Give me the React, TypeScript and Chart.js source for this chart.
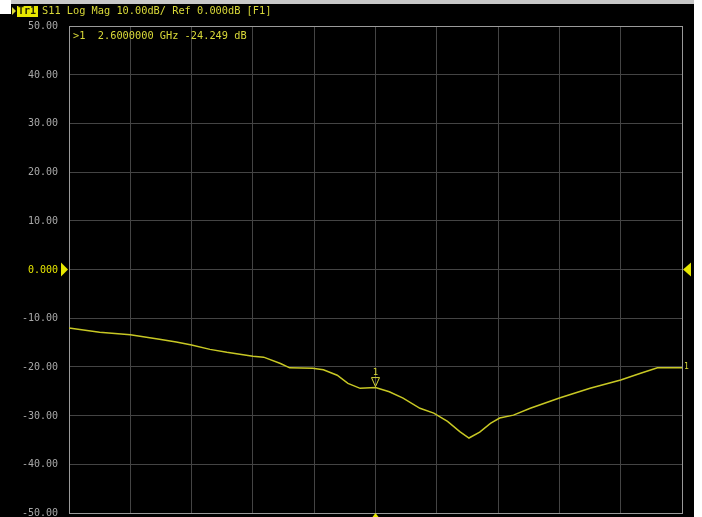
import React, { useEffect, useRef } from "react";
import { Chart, registerables } from "chart.js";

Chart.register(...registerables);

// ---- data ----
const freqGHz = [
  0.6, 0.8, 1.0, 1.19, 1.3, 1.4, 1.52, 1.63, 1.8, 1.87, 1.98, 2.04, 2.19, 2.26,
  2.35, 2.42, 2.5, 2.6, 2.69, 2.78, 2.89, 2.98, 3.07, 3.15, 3.21, 3.28, 3.35,
  3.41, 3.5, 3.61, 3.8, 4.0, 4.2, 4.33, 4.44, 4.6,
];
const s11dB = [
  -12.0, -12.9, -13.4, -14.3, -14.9, -15.5, -16.4, -17.0, -17.8, -18.0, -19.3,
  -20.2, -20.3, -20.6, -21.7, -23.4, -24.4, -24.249, -25.1, -26.4, -28.5, -29.5,
  -31.2, -33.3, -34.6, -33.4, -31.6, -30.5, -29.9, -28.5, -26.4, -24.4, -22.7,
  -21.3, -20.2, -20.2,
];
const yTicks = [50, 40, 30, 20, 10, 0, -10, -20, -30, -40, -50];
const yTickLabels = [
  "50.00", "40.00", "30.00", "20.00", "10.00", "0.000",
  "-10.00", "-20.00", "-30.00", "-40.00", "-50.00",
];
const xGrid = [0.6, 1.0, 1.4, 1.8, 2.2, 2.6, 3.0, 3.4, 3.8, 4.2, 4.6];
const refLevel = 0;
const markerFreq = 2.6;
const markerValue = -24.249;
const traceName = "Tr1";
const headerText = "S11 Log Mag 10.00dB/ Ref 0.000dB [F1]";
const markerReadout = ">1  2.6000000 GHz -24.249 dB";
const markerName = "1";

const YELLOW = "#d8d838";
const TRACE = "#c8c824";
const GRAY_TEXT = "#a8a8a8";
const GRID = "#444444";
const BORDER = "#9a9a9a";
const MONO = "'DejaVu Sans Mono', 'Liberation Mono', monospace";

const overlay = {
  id: "vnaOverlay",
  beforeDatasetsDraw(chart: any) {
    const { ctx, chartArea } = chart;
    ctx.save();
    ctx.strokeStyle = BORDER;
    ctx.lineWidth = 1;
    ctx.strokeRect(
      Math.round(chartArea.left) + 0.5,
      Math.round(chartArea.top) + 0.5,
      Math.round(chartArea.right - chartArea.left),
      Math.round(chartArea.bottom - chartArea.top)
    );
    ctx.restore();
  },
  afterDraw(chart: any) {
    const { ctx, chartArea } = chart;
    const ys = chart.scales.y;
    const xs = chart.scales.x;
    ctx.save();
    // header
    ctx.fillStyle = YELLOW;
    ctx.beginPath();
    ctx.moveTo(12, 7);
    ctx.lineTo(16, 11);
    ctx.lineTo(12, 15);
    ctx.closePath();
    ctx.fill();
    ctx.fillStyle = "#e8e800";
    ctx.fillRect(17, 6, 21, 11);
    ctx.font = `bold 10px ${MONO}`;
    ctx.fillStyle = "#202000";
    ctx.textBaseline = "middle";
    ctx.textAlign = "left";
    ctx.fillText(traceName, 18, 11.5);
    ctx.font = `10.3px ${MONO}`;
    ctx.fillStyle = YELLOW;
    ctx.fillText(headerText, 42, 11.5);
    // marker readout
    ctx.fillText(markerReadout, 73, 36.5);

    // y labels
    ctx.font = `10px ${MONO}`;
    ctx.textAlign = "right";
    yTicks.forEach((v, i) => {
      const y = ys.getPixelForValue(v);
      ctx.fillStyle = v === refLevel ? "#e4e400" : GRAY_TEXT;
      ctx.fillText(yTickLabels[i], 58, y + 0.5);
    });

    // reference triangles
    const yr = ys.getPixelForValue(refLevel);
    ctx.fillStyle = "#e8e800";
    ctx.beginPath();
    ctx.moveTo(61, yr - 7);
    ctx.lineTo(68, yr);
    ctx.lineTo(61, yr + 7);
    ctx.closePath();
    ctx.fill();
    ctx.beginPath();
    ctx.moveTo(691, yr - 7);
    ctx.lineTo(683, yr);
    ctx.lineTo(691, yr + 7);
    ctx.closePath();
    ctx.fill();

    // marker
    const xm = xs.getPixelForValue(markerFreq);
    const ym = ys.getPixelForValue(markerValue);
    ctx.strokeStyle = YELLOW;
    ctx.lineWidth = 1;
    ctx.beginPath();
    ctx.moveTo(xm - 4, ym - 10);
    ctx.lineTo(xm + 4, ym - 10);
    ctx.lineTo(xm, ym - 1);
    ctx.closePath();
    ctx.stroke();
    ctx.font = `9px ${MONO}`;
    ctx.fillStyle = YELLOW;
    ctx.textAlign = "center";
    ctx.fillText(markerName, xm, ym - 15);

    // bottom marker position indicator
    ctx.fillStyle = "#e8e800";
    ctx.beginPath();
    ctx.moveTo(xm - 3, chartArea.bottom + 4);
    ctx.lineTo(xm, chartArea.bottom);
    ctx.lineTo(xm + 3, chartArea.bottom + 4);
    ctx.closePath();
    ctx.fill();

    // trace end tag
    const yEnd = ys.getPixelForValue(s11dB[s11dB.length - 1]);
    ctx.font = `8px ${MONO}`;
    ctx.textAlign = "left";
    ctx.fillStyle = YELLOW;
    ctx.fillText(markerName, chartArea.right + 2, yEnd - 1);
    ctx.restore();
  },
};

export default function App() {
  const canvasRef = useRef<HTMLCanvasElement | null>(null);

  useEffect(() => {
    document.body.style.margin = "0";
    const canvas = canvasRef.current;
    if (!canvas) return;
    const chart = new Chart(canvas, {
      type: "line",
      data: {
        datasets: [
          {
            data: freqGHz.map((f, i) => ({ x: f, y: s11dB[i] })),
            borderColor: TRACE,
            borderWidth: 1.5,
            pointRadius: 0,
            tension: 0,
            fill: false,
          },
        ],
      },
      options: {
        responsive: false,
        animation: false,
        devicePixelRatio: 1,
        layout: { padding: { left: 69, right: 20, top: 26, bottom: 4 } },
        plugins: { legend: { display: false }, tooltip: { enabled: false } },
        scales: {
          x: {
            type: "linear",
            min: xGrid[0],
            max: xGrid[xGrid.length - 1],
            afterBuildTicks: (s: any) => {
              s.ticks = xGrid.map((v) => ({ value: v }));
            },
            afterFit: (s: any) => {
              s.height = 0;
            },
            ticks: { display: false },
            grid: { color: GRID, drawTicks: false, lineWidth: 1 },
            border: { display: false },
          },
          y: {
            type: "linear",
            min: -50,
            max: 50,
            afterBuildTicks: (s: any) => {
              s.ticks = yTicks.map((v) => ({ value: v }));
            },
            afterFit: (s: any) => {
              s.width = 0;
            },
            ticks: { display: false },
            grid: { color: GRID, drawTicks: false, lineWidth: 1 },
            border: { display: false },
          },
        },
      },
      plugins: [overlay],
    } as any);
    return () => chart.destroy();
  }, []);

  return (
    <div
      style={{
        position: "fixed",
        left: 0,
        top: 0,
        width: 702,
        height: 517,
        background: "#ffffff",
        overflow: "hidden",
      }}
    >
      <div
        style={{
          position: "absolute",
          left: 11,
          top: 0,
          width: 683,
          height: 4,
          background: "#c8c8c8",
        }}
      />
      <div
        style={{
          position: "absolute",
          left: 11,
          top: 4,
          width: 683,
          height: 513,
          background: "#000000",
        }}
      />
      <div
        style={{
          position: "absolute",
          left: 0,
          top: 14,
          width: 11,
          height: 503,
          background: "#000000",
        }}
      />
      <canvas
        ref={canvasRef}
        width={702}
        height={517}
        style={{ position: "absolute", left: 0, top: 0, width: 702, height: 517 }}
      />
    </div>
  );
}
